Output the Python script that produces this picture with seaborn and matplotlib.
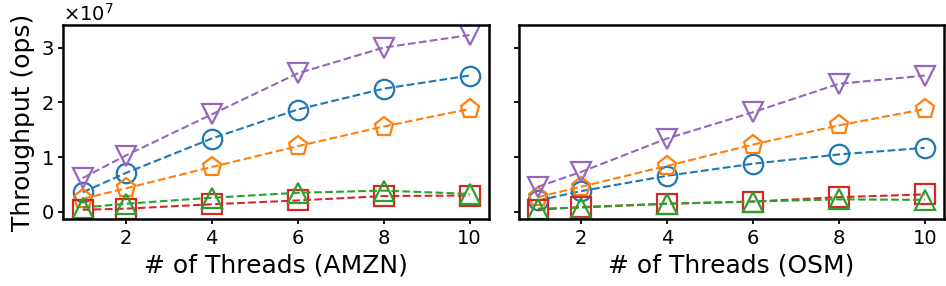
import pandas as pd
import seaborn as sns
import matplotlib.pyplot as plt

# 1. DATA (throughput in ops)
# ------------------------------------------------
threads = [1, 2, 4, 6, 8, 10]

amzn_blue = [0.36e7, 0.71e7, 1.34e7, 1.87e7, 2.25e7, 2.49e7]
amzn_orange = [0.24e7, 0.43e7, 0.82e7, 1.20e7, 1.56e7, 1.88e7]
amzn_red = [0.04e7, 0.06e7, 0.14e7, 0.21e7, 0.29e7, 0.30e7]
amzn_green = [0.08e7, 0.15e7, 0.26e7, 0.35e7, 0.39e7, 0.33e7]
amzn_purple = [0.62e7, 1.03e7, 1.78e7, 2.53e7, 3.00e7, 3.23e7]

osm_blue = [0.21e7, 0.38e7, 0.66e7, 0.88e7, 1.05e7, 1.17e7]
osm_orange = [0.27e7, 0.46e7, 0.84e7, 1.23e7, 1.58e7, 1.88e7]
osm_red = [0.04e7, 0.09e7, 0.15e7, 0.19e7, 0.27e7, 0.32e7]
osm_green = [0.06e7, 0.08e7, 0.15e7, 0.19e7, 0.23e7, 0.22e7]
osm_purple = [0.46e7, 0.73e7, 1.34e7, 1.82e7, 2.34e7, 2.49e7]

series_colors = ["tab:blue", "tab:orange", "tab:red", "tab:green", "tab:purple"]
series_markers = ["o", "p", "s", "^", "v"]

panels = [
    ("# of Threads (AMZN)", [amzn_blue, amzn_orange, amzn_red, amzn_green, amzn_purple]),
    ("# of Threads (OSM)", [osm_blue, osm_orange, osm_red, osm_green, osm_purple]),
]

# 2. PLOT
# -------
fig, axes = plt.subplots(1, 2, figsize=(9.46, 2.86), dpi=100, sharey=True)
plt.subplots_adjust(left=0.067, right=0.998, top=0.912, bottom=0.234, wspace=0.07)

for ax, (xlabel, series) in zip(axes, panels):
    for vals, col, mk in zip(series, series_colors, series_markers):
        df = pd.DataFrame({"threads": threads, "ops": vals})
        sns.lineplot(data=df, x="threads", y="ops", ax=ax, color=col,
                     linestyle="--", linewidth=1.5, marker=mk, markersize=14,
                     mfc="none", mec=col, mew=1.6)
    ax.set_xlabel(xlabel, fontsize=18)
    ax.set_ylabel("")
    ax.set_xticks([2, 4, 6, 8, 10])
    ax.tick_params(labelsize=14, width=1.3)
    for sp in ax.spines.values():
        sp.set_linewidth(1.8)

axes[0].set_ylim(-0.13e7, 3.41e7)
axes[0].set_yticks([0, 1e7, 2e7, 3e7])
axes[0].ticklabel_format(axis="y", style="sci", scilimits=(0, 0), useMathText=True)
axes[0].yaxis.get_offset_text().set_fontsize(14)
axes[0].set_ylabel("Throughput (ops)", fontsize=18)

plt.savefig("out.png")
